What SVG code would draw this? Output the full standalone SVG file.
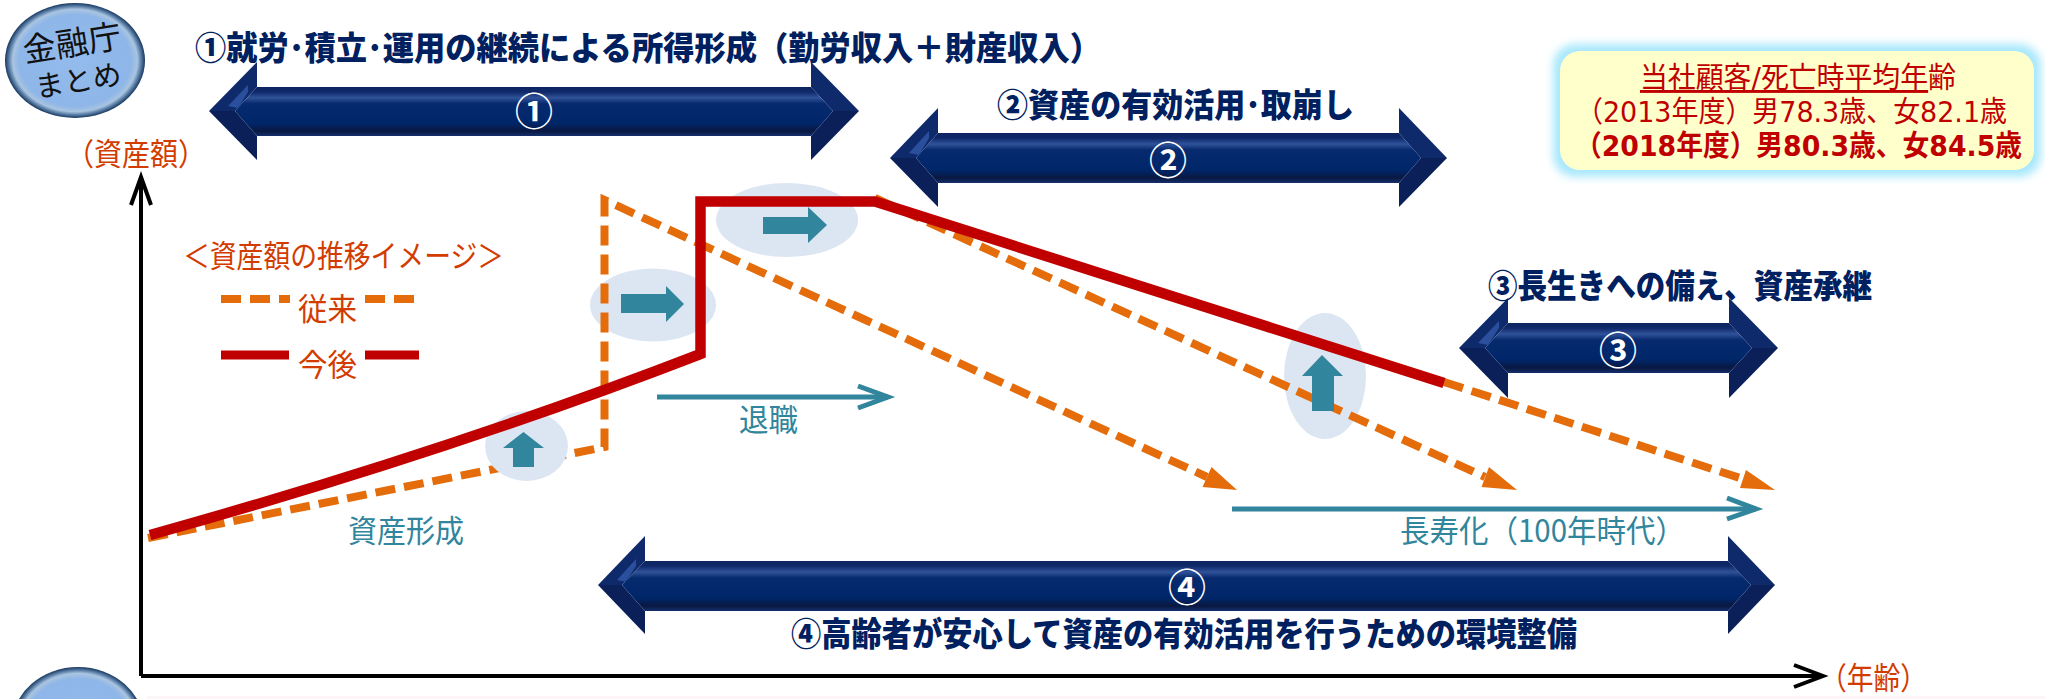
<svg xmlns="http://www.w3.org/2000/svg" width="2045" height="699" viewBox="0 0 2045 699">
<style>
text{font-family:"Noto Sans CJK JP","Noto Sans",sans-serif}
.h{font-size:33px;font-weight:900;fill:#002060}
.n{font-size:38px;fill:#fff;text-anchor:middle;font-weight:700}
.o{font-size:31px;fill:#d23c00}
.t{font-size:31px;fill:#31859c}
.c{fill:#111;text-anchor:middle}
.b{font-family:"DejaVu Sans","Noto Sans CJK JP",sans-serif;font-size:29px;fill:#c00000}
.hd{fill:#0f2a6b}.lt{fill:#2a4f9c}.dk{fill:#0b2058}
.sh{fill:url(#shaft)}
.el{fill:#dce6f2}
.bl{fill:#31859c}
.or{fill:none;stroke:#e46c0a;stroke-width:8;stroke-dasharray:20 9}
.ot{fill:#e46c0a}
.rd{fill:none;stroke:#c00000;stroke-width:10.5;stroke-linejoin:miter}
.tl{fill:none;stroke:#31859c;stroke-width:5}
.ax{fill:none;stroke:#000;stroke-width:4}
.cir{fill:url(#disc)}
</style>
<defs>
<linearGradient id="shaft" x1="0" y1="0" x2="0" y2="1">
<stop offset="0" stop-color="#0c2560"/><stop offset=".1" stop-color="#0f286a"/><stop offset=".22" stop-color="#2f5299"/><stop offset=".34" stop-color="#072a6e"/><stop offset=".74" stop-color="#00266a"/><stop offset=".9" stop-color="#091840"/><stop offset="1" stop-color="#14306e"/>
</linearGradient>
<radialGradient id="disc" cx=".5" cy=".5" r=".5">
<stop offset="0" stop-color="#93bbec"/><stop offset=".8" stop-color="#8eb6e8"/><stop offset=".89" stop-color="#a9c4e0"/><stop offset=".94" stop-color="#5f83ab"/><stop offset="1" stop-color="#17375e"/>
</radialGradient>
<filter id="glow" x="-10%" y="-20%" width="120%" height="140%"><feGaussianBlur stdDeviation="4"/></filter>
</defs>
<rect width="2045" height="699" fill="#fff"/>
<rect x="147" y="696" width="1898" height="3" fill="#fef5f7"/>

<g id="node-fsa">
<ellipse class="cir" cx="75" cy="60.5" rx="70" ry="57.5"/>
<text class="c" font-size="33" transform="rotate(-9 72 43)" x="72" y="55">金融庁</text>
<text class="c" font-size="29" transform="rotate(-9 78 80)" x="78" y="91">まとめ</text>
</g>
<g id="node-company"><ellipse class="cir" cx="78" cy="725" rx="66" ry="58"/></g>

<g id="label-asset"><text class="o" x="66" y="165" textLength="140" lengthAdjust="spacingAndGlyphs">（資産額）</text></g>
<g id="label-age"><text class="o" x="1820" y="689" textLength="107" lengthAdjust="spacingAndGlyphs">（年齢）</text></g>

<g id="node-arrow1">
<polygon class="hd" points="209,111 257,62 257,87 235,111"/><polygon class="lt" points="228,106 248,85 248,92 238,108"/><polygon class="dk" points="209,111 235,111 257,136 257,160"/>
<polygon class="hd" points="859,111 811,62 811,87 833,111"/><polygon class="dk" points="859,111 833,111 811,136 811,160"/>
<polygon class="sh" points="235,111 257,87 811,87 833,111 811,136 257,136"/>
<text class="n" x="534" y="125">①</text>
</g>
<g id="node-arrow2">
<polygon class="hd" points="890,158 938,108 938,133 916,158"/><polygon class="lt" points="909,153 929,131 929,138 919,155"/><polygon class="dk" points="890,158 916,158 938,183 938,207"/>
<polygon class="hd" points="1447,158 1399,108 1399,133 1421,158"/><polygon class="dk" points="1447,158 1421,158 1399,183 1399,207"/>
<polygon class="sh" points="916,158 938,133 1399,133 1421,158 1399,183 938,183"/>
<text class="n" x="1168" y="174">②</text>
</g>
<g id="node-arrow3">
<polygon class="hd" points="1459,348 1508,298 1508,323 1485,348"/><polygon class="lt" points="1478,343 1499,321 1499,328 1488,345"/><polygon class="dk" points="1459,348 1485,348 1508,373 1508,398"/>
<polygon class="hd" points="1778,348 1729,298 1729,323 1752,348"/><polygon class="dk" points="1778,348 1752,348 1729,373 1729,398"/>
<polygon class="sh" points="1485,348 1508,323 1729,323 1752,348 1729,373 1508,373"/>
<text class="n" x="1618" y="364">③</text>
</g>
<g id="node-arrow4">
<polygon class="hd" points="598,585 645,536 645,561 622,585"/><polygon class="lt" points="617,580 636,559 636,566 626,582"/><polygon class="dk" points="598,585 622,585 645,611 645,634"/>
<polygon class="hd" points="1775,585 1728,536 1728,561 1751,585"/><polygon class="dk" points="1775,585 1751,585 1728,611 1728,634"/>
<polygon class="sh" points="622,585 645,561 1728,561 1751,585 1728,611 645,611"/>
<text class="n" x="1187" y="601">④</text>
</g>

<g id="node-heading1"><text class="h" x="195" y="60" textLength="906" lengthAdjust="spacingAndGlyphs">①就労･積立･運用の継続による所得形成（勤労収入＋財産収入）</text></g>
<g id="node-heading2"><text class="h" x="997" y="117" textLength="357" lengthAdjust="spacingAndGlyphs">②資産の有効活用･取崩し</text></g>
<g id="node-heading3"><text class="h" x="1488" y="298" textLength="384" lengthAdjust="spacingAndGlyphs">③長生きへの備え、資産承継</text></g>
<g id="node-heading4"><text class="h" x="791" y="646" textLength="786" lengthAdjust="spacingAndGlyphs">④高齢者が安心して資産の有効活用を行うための環境整備</text></g>

<g id="node-infobox">
<rect x="1553" y="44" width="488" height="133" rx="22" fill="#a8e8fc" filter="url(#glow)"/>
<rect x="1560" y="51" width="474" height="119" rx="20" fill="#ffffcc"/>
<text class="b" x="1640" y="88" textLength="316" lengthAdjust="spacingAndGlyphs"><tspan text-decoration="underline">当社顧客/死亡時平均年</tspan>齢</text>
<text class="b" x="1576" y="122" textLength="431" lengthAdjust="spacingAndGlyphs">（2013年度）男78.3歳、女82.1歳</text>
<text class="b" x="1575" y="156" textLength="447" lengthAdjust="spacingAndGlyphs" font-weight="700">（2018年度）男80.3歳、女84.5歳</text>
</g>

<g id="node-legend">
<text class="o" x="183" y="267" textLength="321" lengthAdjust="spacingAndGlyphs">＜資産額の推移イメージ＞</text>
<line class="or" x1="221" y1="299" x2="290" y2="299"/>
<line class="or" x1="365" y1="299" x2="418" y2="299"/>
<text class="o" x="298" y="320" textLength="59" lengthAdjust="spacingAndGlyphs">従来</text>
<line x1="221" y1="355" x2="289" y2="355" stroke="#c00000" stroke-width="9"/>
<line x1="365" y1="355" x2="419" y2="355" stroke="#c00000" stroke-width="9"/>
<text class="o" x="298" y="376" textLength="59" lengthAdjust="spacingAndGlyphs">今後</text>
</g>

<g id="highlights-back">
<ellipse class="el" cx="787" cy="220" rx="71" ry="37"/>
<ellipse class="el" cx="653" cy="305" rx="63" ry="36.5"/>
<ellipse class="el" cx="1325" cy="376" rx="41" ry="63"/>
</g>

<g id="connectors">
<path class="ax" d="M141,676V178"/>
<path class="ax" d="M131,205L141,177L151,205"/>
<path class="ax" d="M141,676H1821"/>
<path class="ax" stroke-width="5" d="M1794,665L1823,676L1794,687"/>
<path class="tl" d="M657,397H888"/><path class="tl" d="M858,386L888,397L858,408"/>
<path class="tl" d="M1232,509H1756"/><path class="tl" d="M1727,498L1756,509L1727,519"/>
<path class="or" d="M148,538L604.5,447V200L1207,477"/>
<polygon class="ot" points="1237,490 1211.5,467 1202.5,487"/>
<path class="or" d="M875,198L1485,477"/>
<polygon class="ot" points="1517,490 1489,467 1481.5,487"/>
<path class="or" d="M1444,382L1743,479"/>
<polygon class="ot" points="1775,490 1746,470 1740,488"/>
<ellipse class="el" cx="526.5" cy="446" rx="41.5" ry="35"/>
<path class="rd" d="M150,535C333,484 517,425 700.5,354V201.5H875L1444,383"/>
</g>

<g id="block-arrows">
<polygon class="bl" points="763,217 808,217 808,207 827,225 808,243 808,234 763,234"/>
<polygon class="bl" points="621,294 666,294 666,286 684,304 666,322 666,313 621,313"/>
<polygon class="bl" points="523.5,432 544,448 534,448 534,467 513,467 513,448 503,448"/>
<polygon class="bl" points="1322,355 1343,376 1334,376 1334,411 1312,411 1312,376 1302,376"/>
</g>

<g id="labels-teal">
<text class="t" x="739" y="431" textLength="59" lengthAdjust="spacingAndGlyphs">退職</text>
<text class="t" x="348" y="542" textLength="116" lengthAdjust="spacingAndGlyphs">資産形成</text>
<text class="t" x="1400" y="542" textLength="285" lengthAdjust="spacingAndGlyphs">長寿化（100年時代）</text>
</g>
</svg>
